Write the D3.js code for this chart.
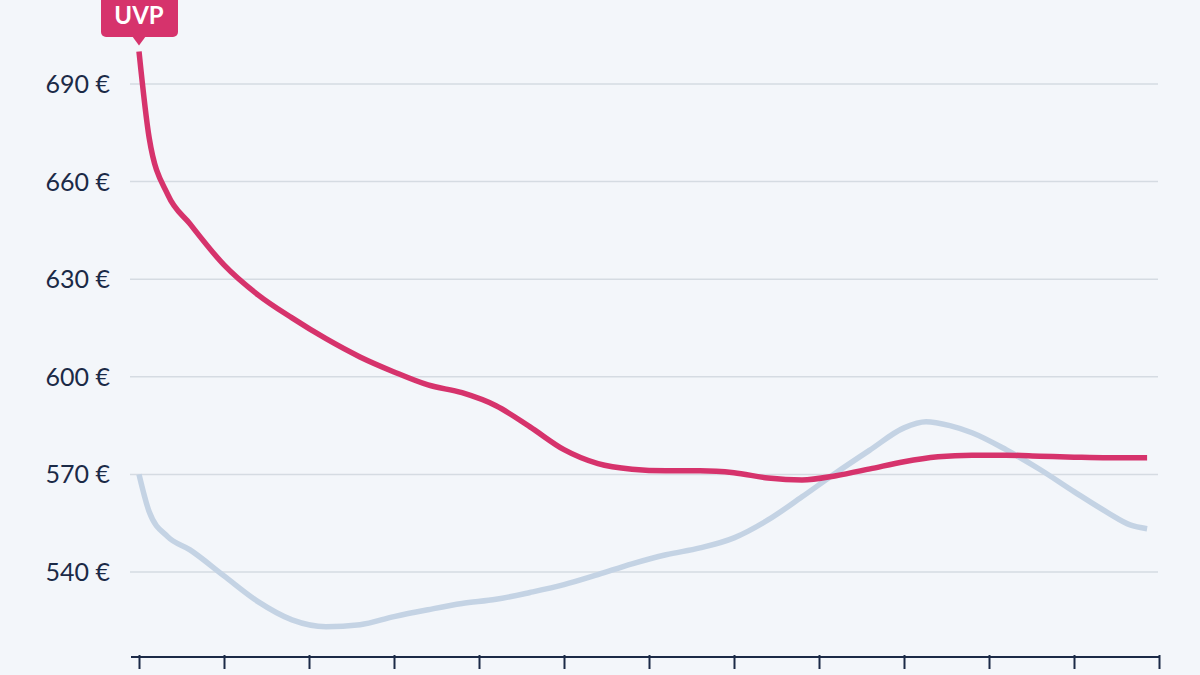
<!DOCTYPE html>
<html lang="de">
<head>
<meta charset="utf-8">
<script src="https://cdn.jsdelivr.net/npm/d3@7"></script>
<style>
  body { margin: 0; background: #f3f6fa; }
  text { font-family: Lato, "Open Sans", sans-serif; }
</style>
</head>
<body>
<script>
var w = 1200, h = 675;

// days since start, prices
var days = [0, 0.6, 1.7, 3, 5, 7, 9, 11, 13, 15, 17, 19, 21, 23, 25, 27, 29, 31, 33, 35,
            37, 39, 41, 43, 45, 47, 49, 51, 53, 55, 57, 59.3];
var priceMain = [700, 673.4, 655.9, 647, 634.4, 625.2, 618.1, 611.7, 606.1, 601.5, 597.5, 595.1,
                 591.1, 584.6, 577.6, 573.3, 571.6, 571.1, 571.1, 570.5, 568.9, 568.3, 569.6,
                 571.7, 573.9, 575.4, 575.9, 575.9, 575.6, 575.3, 575.1, 575.1];
var daysGray = [0, 0.6, 1.7, 3, 5, 7, 9, 11, 13, 15, 17, 19, 21, 23, 25, 27, 29, 31, 33, 35,
                37, 39, 41, 43, 45, 46.3, 47.7, 49, 51, 53, 55, 57, 58.3, 59.3];
var priceGray = [570, 558.5, 550.8, 546.8, 538.8, 530.9, 525.3, 523.2, 523.8, 526.3, 528.4,
                 530.3, 531.6, 533.7, 536.1, 539.2, 542.5, 545.3, 547.4, 550.5, 556, 563.1,
                 570.5, 577.5, 584.3, 586.2, 585, 582.8, 577.6, 571.5, 564.7, 558.2, 554.5, 553.3];
var yTicks = [540, 570, 600, 630, 660, 690];
var xTicks = d3.range(0, 61, 5);

var x = d3.scaleLinear().domain([0, 60]).range([139, 1159]);
var y = d3.scaleLinear().domain([540, 690]).range([572, 84]);

var svg = d3.select("body").append("svg").attr("width", w).attr("height", h);
svg.append("rect").attr("width", w).attr("height", h).attr("fill", "#f3f6fa");

// grid + labels
svg.selectAll(".grid").data(yTicks).enter().append("line")
   .attr("x1", 130).attr("x2", 1158)
   .attr("y1", function(d) { return y(d); }).attr("y2", function(d) { return y(d); })
   .attr("stroke", "#d5dbe2").attr("stroke-width", 1.5);
svg.selectAll(".ylab").data(yTicks).enter().append("text")
   .attr("x", 110).attr("y", function(d) { return y(d) + 9; })
   .attr("text-anchor", "end").attr("font-size", 25).attr("fill", "#1b2a47")
   .text(function(d) { return d + " €"; });

// bottom axis
var axis = svg.append("g").attr("transform", "translate(0,657)")
   .call(d3.axisBottom(x).tickValues(xTicks).tickSize(12).tickFormat(""));
axis.select(".domain").attr("stroke", "#1b2a47").attr("stroke-width", 2)
   .attr("d", "M131,0H1159");
axis.selectAll(".tick line").attr("stroke", "#1b2a47").attr("stroke-width", 2)
   .attr("y1", -2);

var line = d3.line().curve(d3.curveMonotoneX)
   .x(function(d) { return x(d[0]); }).y(function(d) { return y(d[1]); });

svg.append("path").datum(d3.zip(daysGray, priceGray)).attr("d", line)
   .attr("fill", "none").attr("stroke", "#c4d3e4").attr("stroke-width", 5.5)
   .attr("stroke-linejoin", "round");
svg.append("path").datum(d3.zip(days, priceMain)).attr("d", line)
   .attr("fill", "none").attr("stroke", "#d6336c").attr("stroke-width", 5.5)
   .attr("stroke-linejoin", "round");

// UVP label
var lx = x(0), ly = y(priceMain[0]);
var lab = svg.append("g");
lab.append("rect").attr("x", lx - 38).attr("y", -6).attr("width", 77).attr("height", 43)
   .attr("rx", 5).attr("fill", "#d6336c");
lab.append("path").attr("d", "M" + (lx - 7) + ",36L" + lx + "," + (ly - 6) + "L" + (lx + 7) + ",36Z")
   .attr("fill", "#d6336c");
lab.append("text").attr("x", lx).attr("y", 24).attr("text-anchor", "middle")
   .attr("font-size", 24).attr("font-weight", "bold").attr("fill", "#fff").text("UVP");
</script>
</body>
</html>
